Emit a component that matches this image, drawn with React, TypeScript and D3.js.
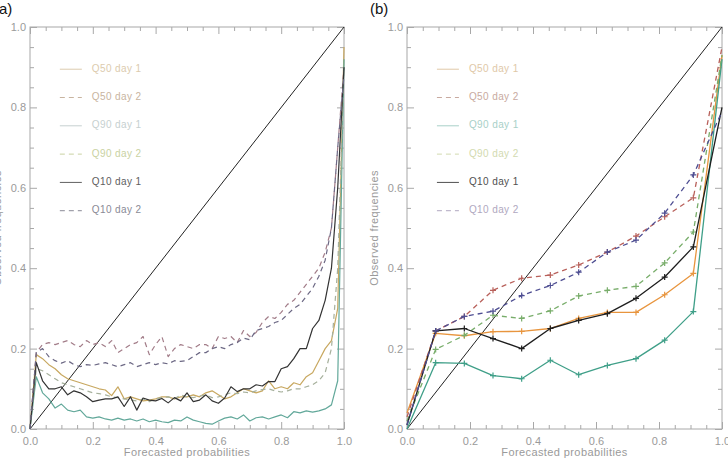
import { useEffect, useRef } from 'react';
import * as d3 from 'd3';

// panel (a): forecast probability bins of 0.02
const probsA = [
  0, 0.02, 0.04, 0.06, 0.08, 0.1, 0.12, 0.14, 0.16, 0.18, 0.2, 0.22, 0.24, 0.26, 0.28, 0.3, 0.32,
  0.34, 0.36, 0.38, 0.4, 0.42, 0.44, 0.46, 0.48, 0.5, 0.52, 0.54, 0.56, 0.58, 0.6, 0.62, 0.64, 0.66,
  0.68, 0.7, 0.72, 0.74, 0.76, 0.78, 0.8, 0.82, 0.84, 0.86, 0.88, 0.9, 0.92, 0.94, 0.96, 0.98, 1.0,
];
const q50d1A = [
  0, 0.185, 0.175, 0.16, 0.15, 0.135, 0.125, 0.12, 0.115, 0.11, 0.105, 0.1, 0.097, 0.083, 0.105,
  0.075, 0.08, 0.075, 0.07, 0.072, 0.075, 0.08, 0.08, 0.075, 0.08, 0.08, 0.085, 0.08, 0.09, 0.095,
  0.085, 0.075, 0.08, 0.09, 0.1, 0.095, 0.09, 0.095, 0.12, 0.1, 0.105, 0.1, 0.115, 0.11, 0.13, 0.14,
  0.17, 0.2, 0.22, 0.3, 0.95,
];
const q50d2A = [
  0, 0.19, 0.21, 0.215, 0.21, 0.215, 0.22, 0.21, 0.205, 0.22, 0.21, 0.215, 0.205, 0.22, 0.19, 0.2,
  0.21, 0.215, 0.23, 0.185, 0.21, 0.23, 0.18, 0.2, 0.21, 0.205, 0.2, 0.21, 0.21, 0.2, 0.23, 0.225,
  0.23, 0.215, 0.245, 0.23, 0.24, 0.265, 0.28, 0.275, 0.29, 0.31, 0.32, 0.34, 0.36, 0.38, 0.4, 0.44,
  0.5, 0.7, 0.9,
];
const q90d1A = [
  0, 0.13, 0.09, 0.075, 0.052, 0.062, 0.047, 0.043, 0.047, 0.03, 0.027, 0.03, 0.025, 0.022, 0.027,
  0.022, 0.025, 0.02, 0.025, 0.018, 0.022, 0.018, 0.016, 0.022, 0.02, 0.03, 0.022, 0.018, 0.014,
  0.012, 0.02, 0.027, 0.03, 0.025, 0.035, 0.02, 0.028, 0.03, 0.025, 0.03, 0.035, 0.028, 0.043, 0.04,
  0.045, 0.042, 0.045, 0.05, 0.06, 0.12, 0.92,
];
const q90d2A = [
  0, 0.15, 0.145, 0.135, 0.125, 0.115, 0.11, 0.105, 0.1, 0.095, 0.09, 0.088, 0.085, 0.08, 0.078,
  0.075, 0.072, 0.07, 0.075, 0.068, 0.075, 0.078, 0.08, 0.075, 0.085, 0.08, 0.078, 0.082, 0.085,
  0.078, 0.08, 0.085, 0.09, 0.088, 0.092, 0.09, 0.095, 0.098, 0.1, 0.095, 0.092, 0.095, 0.1, 0.1,
  0.105, 0.11, 0.12, 0.14, 0.2, 0.4, 0.9,
];
const q10d1A = [
  0, 0.165, 0.12, 0.1, 0.1, 0.105, 0.085, 0.095, 0.09, 0.08, 0.068, 0.072, 0.075, 0.075, 0.08, 0.056,
  0.08, 0.047, 0.077, 0.072, 0.07, 0.076, 0.065, 0.078, 0.07, 0.09, 0.068, 0.072, 0.085, 0.07, 0.064,
  0.077, 0.105, 0.093, 0.1, 0.1, 0.11, 0.107, 0.118, 0.118, 0.15, 0.155, 0.175, 0.2, 0.2, 0.25, 0.27,
  0.32, 0.4, 0.6, 0.9,
];
const q10d2A = [
  0, 0.19, 0.2, 0.18, 0.17, 0.164, 0.17, 0.16, 0.155, 0.16, 0.158, 0.162, 0.165, 0.16, 0.155, 0.16,
  0.165, 0.155, 0.16, 0.165, 0.16, 0.165, 0.162, 0.17, 0.168, 0.17, 0.18, 0.19, 0.19, 0.2, 0.205,
  0.2, 0.21, 0.215, 0.226, 0.222, 0.245, 0.25, 0.255, 0.265, 0.27, 0.285, 0.3, 0.31, 0.33, 0.35,
  0.38, 0.42, 0.5, 0.7, 0.88,
];

// panel (b): 11 bins
const probsB = [0, 0.091, 0.182, 0.273, 0.364, 0.455, 0.545, 0.636, 0.727, 0.818, 0.909, 1.0];
const q50d1B = [0.04, 0.238, 0.232, 0.242, 0.243, 0.25, 0.275, 0.29, 0.29, 0.334, 0.387, 0.93];
const q50d2B = [0.03, 0.244, 0.28, 0.345, 0.375, 0.383, 0.408, 0.44, 0.48, 0.528, 0.575, 0.95];
const q90d1B = [0.0, 0.165, 0.163, 0.133, 0.125, 0.171, 0.135, 0.158, 0.175, 0.221, 0.292, 0.92];
const q90d2B = [0.02, 0.198, 0.233, 0.283, 0.275, 0.294, 0.331, 0.345, 0.355, 0.413, 0.49, 0.93];
const q10d1B = [0.01, 0.244, 0.25, 0.225, 0.2, 0.25, 0.27, 0.287, 0.325, 0.378, 0.453, 0.8];
const q10d2B = [0.01, 0.244, 0.28, 0.293, 0.332, 0.357, 0.39, 0.44, 0.47, 0.537, 0.632, 0.79];

const seriesNames = ['Q50 day 1', 'Q50 day 2', 'Q90 day 1', 'Q90 day 2', 'Q10 day 1', 'Q10 day 2'];
const dashedSeries = [false, true, false, true, false, true];
const colorsA = ['#c8a860', '#a27c88', '#62a89a', '#a6b09c', '#333333', '#6c6884'];
const colorsB = ['#e8953e', '#b8605a', '#3f9f88', '#78ad6a', '#1e1e1e', '#4e4e92'];
const legendColorsA = ['#dccbae', '#c8b4a0', '#c6d0d0', '#c9d2a2', '#606060', '#8a8a96'];
const legendColorsB = ['#e0c8a8', '#c8aaa0', '#a8d0c8', '#d2dab0', '#505050', '#b0a8c0'];

const yTicks = [0, 0.2, 0.4, 0.6, 0.8, 1.0];
const xTicks = [0, 0.2, 0.4, 0.6, 0.8, 1.0];
const minorTicks = [
  0.05, 0.1, 0.15, 0.25, 0.3, 0.35, 0.45, 0.5, 0.55, 0.65, 0.7, 0.75, 0.85, 0.9, 0.95,
];

const width = 728;
const height = 458;
const font = "'Liberation Sans', Arial, sans-serif";

interface PanelOpts {
  left: number;
  right: number;
  top: number;
  bottom: number;
  label: string;
  labelX: number;
  probs: number[];
  data: number[][];
  colors: string[];
  legendColors: string[];
  markers: boolean;
}

function drawPanel(svg: d3.Selection<SVGSVGElement, unknown, null, undefined>, o: PanelOpts) {
  const x = d3.scaleLinear().domain([0, 1]).range([o.left, o.right]);
  const y = d3.scaleLinear().domain([0, 1]).range([o.bottom, o.top]);
  const g = svg.append('g');
  const axisColor = '#a8a8a8';
  const labelColor = '#9a9a9a';

  const styleAxis = (sel: d3.Selection<SVGGElement, unknown, null, undefined>) => {
    sel.select('.domain').remove();
    sel.selectAll('line').attr('stroke', axisColor);
    sel
      .selectAll('text')
      .attr('fill', labelColor)
      .attr('font-family', font)
      .attr('font-size', 11);
  };

  // major + minor ticks, pointing inward on all four sides
  const fmt = d3.format('.1f');
  g.append('g')
    .attr('transform', `translate(0,${o.bottom})`)
    .call(d3.axisBottom(x).tickValues(xTicks).tickSizeInner(-7).tickSizeOuter(0).tickPadding(8).tickFormat((d) => fmt(+d)))
    .call(styleAxis);
  g.append('g')
    .attr('transform', `translate(0,${o.bottom})`)
    .call(d3.axisBottom(x).tickValues(minorTicks).tickSizeInner(-4).tickSizeOuter(0).tickFormat(() => ''))
    .call(styleAxis);
  g.append('g')
    .attr('transform', `translate(0,${o.top})`)
    .call(d3.axisTop(x).tickValues(xTicks).tickSizeInner(-7).tickSizeOuter(0).tickFormat(() => ''))
    .call(styleAxis);
  g.append('g')
    .attr('transform', `translate(0,${o.top})`)
    .call(d3.axisTop(x).tickValues(minorTicks).tickSizeInner(-4).tickSizeOuter(0).tickFormat(() => ''))
    .call(styleAxis);
  g.append('g')
    .attr('transform', `translate(${o.left},0)`)
    .call(d3.axisLeft(y).tickValues(yTicks).tickSizeInner(-7).tickSizeOuter(0).tickPadding(4).tickFormat((d) => fmt(+d)))
    .call(styleAxis);
  g.append('g')
    .attr('transform', `translate(${o.left},0)`)
    .call(d3.axisLeft(y).tickValues(minorTicks).tickSizeInner(-4).tickSizeOuter(0).tickFormat(() => ''))
    .call(styleAxis);
  g.append('g')
    .attr('transform', `translate(${o.right},0)`)
    .call(d3.axisRight(y).tickValues(yTicks).tickSizeInner(-7).tickSizeOuter(0).tickFormat(() => ''))
    .call(styleAxis);
  g.append('g')
    .attr('transform', `translate(${o.right},0)`)
    .call(d3.axisRight(y).tickValues(minorTicks).tickSizeInner(-4).tickSizeOuter(0).tickFormat(() => ''))
    .call(styleAxis);

  g.append('rect')
    .attr('x', o.left)
    .attr('y', o.top)
    .attr('width', o.right - o.left)
    .attr('height', o.bottom - o.top)
    .attr('fill', 'none')
    .attr('stroke', axisColor);

  // axis titles
  g.append('text')
    .attr('x', (o.left + o.right) / 2)
    .attr('y', o.bottom + 27)
    .attr('text-anchor', 'middle')
    .attr('fill', labelColor)
    .attr('font-family', font)
    .attr('font-size', 11)
    .attr('letter-spacing', 0.4)
    .text('Forecasted probabilities');
  g.append('text')
    .attr('transform', `translate(${o.left - 32},${(o.top + o.bottom) / 2}) rotate(-90)`)
    .attr('text-anchor', 'middle')
    .attr('dominant-baseline', 'middle')
    .attr('fill', labelColor)
    .attr('font-family', font)
    .attr('font-size', 11)
    .attr('letter-spacing', 0.4)
    .text('Observed frequencies');

  // panel label
  svg
    .append('text')
    .attr('x', o.labelX)
    .attr('y', 14)
    .attr('fill', '#111')
    .attr('font-family', font)
    .attr('font-size', 15)
    .text(o.label);

  // perfect reliability diagonal
  g.append('line')
    .attr('x1', x(0))
    .attr('y1', y(0))
    .attr('x2', x(1))
    .attr('y2', y(1))
    .attr('stroke', '#222')
    .attr('stroke-width', 1);

  const line = d3
    .line<number>()
    .x((_, i) => x(o.probs[i]))
    .y((d) => y(d));

  o.data.forEach((vals, si) => {
    g.append('path')
      .datum(vals)
      .attr('fill', 'none')
      .attr('stroke', o.colors[si])
      .attr('stroke-width', o.markers ? 1.3 : 1.2)
      .attr('stroke-dasharray', dashedSeries[si] ? '5,4' : null)
      .attr('stroke-linejoin', 'round')
      .attr('d', line(vals));
    if (o.markers) {
      g.append('g')
        .selectAll('path')
        .data(vals.slice(1, -1))
        .join('path')
        .attr('transform', (d, i) => `translate(${x(o.probs[i + 1])},${y(d)})`)
        .attr('d', 'M-3,0H3M0,-3V3')
        .attr('stroke', o.colors[si])
        .attr('stroke-width', 1.2);
    }
  });

  // legend
  const lx0 = x(0.095);
  const lg = g.append('g');
  seriesNames.forEach((name, i) => {
    const ly = y(0.895) + i * 28.3;
    lg.append('line')
      .attr('x1', lx0)
      .attr('x2', lx0 + 22)
      .attr('y1', ly)
      .attr('y2', ly)
      .attr('stroke', o.legendColors[i])
      .attr('stroke-width', 1)
      .attr('stroke-dasharray', dashedSeries[i] ? '5,4' : null);
    lg.append('text')
      .attr('x', lx0 + 32)
      .attr('y', ly)
      .attr('dominant-baseline', 'middle')
      .attr('fill', o.legendColors[i])
      .attr('font-family', font)
      .attr('font-size', 10)
      .attr('letter-spacing', 0.4)
      .text(name);
  });
}

function App() {
  const svgRef = useRef<SVGSVGElement | null>(null);

  useEffect(() => {
    const svg = d3.select(svgRef.current as SVGSVGElement);
    svg.selectAll('*').remove();

    drawPanel(svg, {
      left: 30,
      right: 344,
      top: 27,
      bottom: 429,
      label: '(a)',
      labelX: -6,
      probs: probsA,
      data: [q50d1A, q50d2A, q90d1A, q90d2A, q10d1A, q10d2A],
      colors: colorsA,
      legendColors: legendColorsA,
      markers: false,
    });
    drawPanel(svg, {
      left: 407,
      right: 722,
      top: 27,
      bottom: 429,
      label: '(b)',
      labelX: 370,
      probs: probsB,
      data: [q50d1B, q50d2B, q90d1B, q90d2B, q10d1B, q10d2B],
      colors: colorsB,
      legendColors: legendColorsB,
      markers: true,
    });
  }, []);

  return (
    <div style={{ position: 'absolute', left: 0, top: 0 }}>
      <svg ref={svgRef} width={width} height={height} style={{ display: 'block', background: '#fff' }} />
    </div>
  );
}

export default App;
